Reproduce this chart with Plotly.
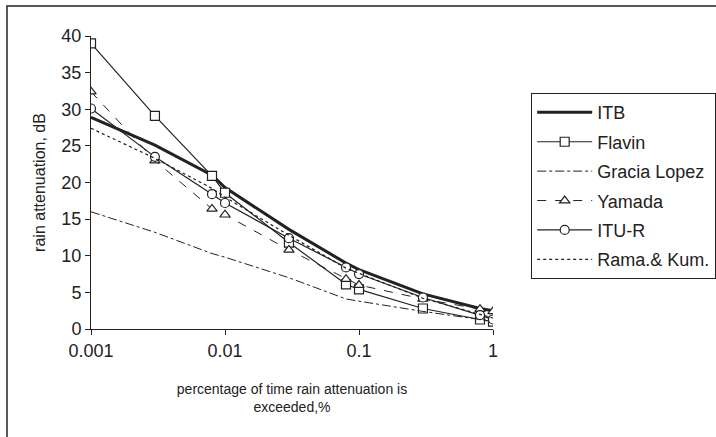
import plotly.graph_objects as go

# -- data
time_pct = [0.001, 0.003, 0.008, 0.01, 0.03, 0.08, 0.1, 0.3, 0.8, 1]
itb = [28.9, 25.1, 21.0, 19.3, 13.6, 9.0, 8.1, 4.8, 2.8, 2.5]
flavin = [39.0, 29.1, 20.9, 18.6, 11.8, 6.1, 5.4, 2.8, 1.3, 1.0]
gracia_lopez = [16.0, 13.2, 10.3, 9.8, 7.0, 4.1, 3.8, 2.4, 1.3, 1.1]
yamada = [32.4, 23.0, 16.4, 15.6, 10.8, 6.8, 6.0, 4.1, 2.7, 2.4]
itu_r = [30.1, 23.5, 18.4, 17.2, 12.4, 8.4, 7.5, 4.3, 1.9, 1.3]
rama_kum = [27.4, 23.3, 19.2, 18.0, 12.8, 8.3, 7.6, 4.2, 2.0, 1.5]

x_ticks = [0.001, 0.01, 0.1, 1]
x_ticklabels = ["0.001", "0.01", "0.1", "1"]
y_ticks = [0, 5, 10, 15, 20, 25, 30, 35, 40]

font_name = "Liberation Sans, Arial, sans-serif"

series = [
    # name, values, line width, dash, marker symbol
    ("ITB", itb, 3, "solid", None),
    ("Flavin", flavin, 1.2, "solid", "square"),
    ("Gracia Lopez", gracia_lopez, 1, "dashdot", None),
    ("Yamada", yamada, 1, "dash", "triangle-up"),
    ("ITU-R", itu_r, 1.2, "solid", "circle"),
    ("Rama.& Kum.", rama_kum, 1.2, "dot", None),
]

fig = go.Figure()
for i, (name, vals, lw, dash, sym) in enumerate(series):
    if sym is None:
        mode = "lines"
        marker = None
    else:
        mode = "lines+markers"
        marker = dict(symbol=sym, size=9, color="white",
                      line=dict(color="#222222", width=1.2))
    fig.add_trace(go.Scatter(
        x=time_pct, y=vals, name=name, mode=mode,
        line=dict(color="#222222", width=lw, dash=dash),
        marker=marker, legendgroup=str(i),
    ))

fig.update_layout(
    width=716, height=437,
    margin=dict(l=91, r=223, t=36, b=108, autoexpand=False),
    plot_bgcolor="white", paper_bgcolor="white",
    font=dict(family=font_name, color="#222222"),
    legend=dict(
        x=1.095, y=0.805, xanchor="left", yanchor="top",
        bordercolor="#222222", borderwidth=1,
        font=dict(size=18, family=font_name),
        tracegroupgap=3, traceorder="grouped",
        itemwidth=55,
    ),
    showlegend=True,
)

fig.update_xaxes(
    type="log", range=[-3, 0],
    tickvals=x_ticks, ticktext=x_ticklabels,
    ticks="outside", ticklen=5, tickcolor="#222222",
    showline=True, linecolor="#222222", linewidth=1,
    showgrid=False, zeroline=False,
    tickfont=dict(size=18),
    title=dict(text="percentage of time rain attenuation is<br>exceeded,%",
               font=dict(size=14), standoff=24),
)
fig.update_yaxes(
    range=[0, 40], tickvals=y_ticks,
    ticks="outside", ticklen=5, tickcolor="#222222",
    showline=True, linecolor="#222222", linewidth=1,
    showgrid=False, zeroline=False,
    tickfont=dict(size=18),
    title=dict(text="rain attenuation, dB", font=dict(size=16), standoff=11),
)

# outer frame of the figure (right and bottom edges run off the picture)
fig.add_shape(type="rect", xref="paper", yref="paper",
              x0=-0.209, y0=-1, x1=2, y1=1.1024,
              line=dict(color="#222222", width=1.5))

# page body margin would shift the figure by 8px
fig.write_html("out.html", config={"displayModeBar": False},
               post_script="document.body.style.margin='0';")
